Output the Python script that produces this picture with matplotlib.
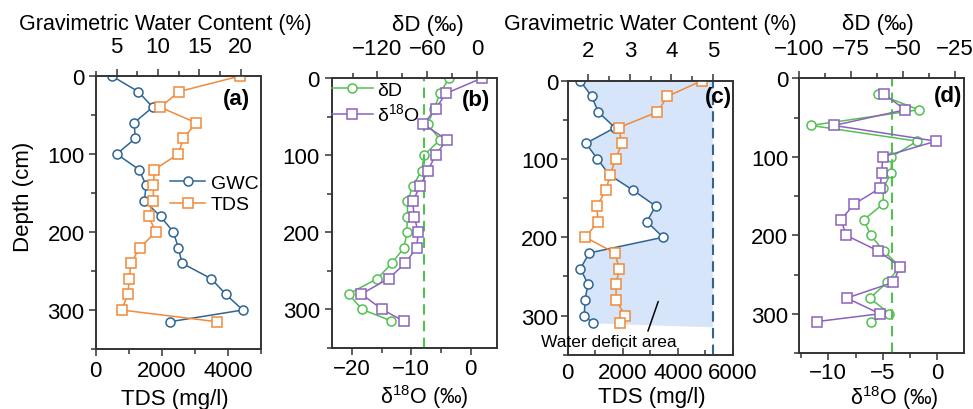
import matplotlib
matplotlib.use('Agg')
import matplotlib.pyplot as plt
from matplotlib.ticker import MultipleLocator

plt.rcParams['font.family'] = ['Liberation Sans', 'DejaVu Sans']
plt.rcParams['mathtext.fontset'] = 'custom'
plt.rcParams['mathtext.rm'] = 'Liberation Sans'
plt.rcParams['font.size'] = 16

# ---- data ----
# panel (a): profile 1, GWC (%) and TDS (mg/l)
depth_a = [0, 20, 40, 60, 80, 100, 120, 140, 160, 180, 200, 220, 240, 260, 280, 300, 315]
gwc_a = [4.4, 7.6, 9.35, 7.1, 7.25, 5.0, 7.7, 8.55, 8.35, 10.3, 11.85, 12.45, 12.9, 16.45, 18.2, 20.25, 11.45]
tds_a = [4365, 2520, 1950, 3034, 2650, 2499, 1773, 1742, 1742, 1603, 1815, 1340, 1059, 1016, 968, 786, 3660]

# panel (b): profile 1, isotopes
depth_b = depth_a
dD_b = [-34, -44.8, -52, -59.5, -44.8, -64, -66.7, -77.5, -84, -84, -84.7, -88, -102.7, -120, -154.8, -138.4, -103.2]
d18O_b = [1.95, -4.15, -5.9, -7.95, -4.0, -5.9, -7.2, -8.5, -9.75, -9.5, -8.8, -9.1, -11.0, -13.8, -18.4, -14.9, -11.3]
ref_d18O_b = -7.85

# panel (c): profile 2, GWC (%) and TDS (mg/l)
depth_c = [0, 20, 40, 60, 80, 100, 120, 140, 160, 180, 200, 220, 240, 260, 280, 300, 310]
gwc_c = [1.80, 2.08, 2.24, 2.64, 1.94, 2.22, 2.5, 3.08, 3.62, 3.41, 3.8, 2.02, 1.81, 1.99, 1.92, 1.9, 2.12]
tds_c = [4873, 3622, 3258, 1855, 1964, 1745, 1538, 1393, 1055, 1102, 640, 1709, 1876, 1756, 1756, 2084, 1902]
field_gwc_c = 5.0
deficit_bottom = 315

# panel (d): profile 2, isotopes
depth_d = [20, 40, 60, 80, 100, 120, 140, 160, 180, 200, 220, 240, 260, 280, 300, 310]
dD_d = [-62.0, -42.5, -94.4, -43.3, -55.7, -55.7, -59.6, -59.6, -68.9, -65.7, -59.3, -51.6, -57.7, -66.0, -56.6, -65.7]
d18O_d = [-4.89, -2.96, -9.48, -0.12, -5.01, -5.1, -5.26, -7.61, -8.83, -8.37, -5.41, -3.42, -4.04, -8.31, -5.26, -11.07]
ref_d18O_d = -4.2

# colours
c_gwc = '#2e6593'
c_tds = '#f08a3a'
c_dD = '#52c152'
c_d18O = '#8b62bd'
c_fill = '#d6e5f9'
c_spine = '#333333'

GWC_LABEL = 'Gravimetric Water Content (%)'
DD_LABEL = 'δD (‰)'
D18O_LABEL = r'δ$^{\mathregular{18}}$O (‰)'

fig = plt.figure(figsize=(9.73, 4.10), dpi=100)


def make_panel(rect, xlim, top_xlim, bottom_pad, left_pad, bottom_dir='out'):
    """Create a panel with a twin x axis on top; the bottom axis is drawn last."""
    ax = fig.add_axes(rect)
    top = ax.twiny()
    ax.set_zorder(top.get_zorder() + 1)
    ax.patch.set_visible(False)
    ax.set_xlim(*xlim)
    top.set_xlim(*top_xlim)
    ax.set_ylim(350, 0)
    ax.yaxis.set_major_locator(MultipleLocator(100))
    ax.yaxis.set_minor_locator(MultipleLocator(50))
    for a in (ax, top):
        for s in a.spines.values():
            s.set_linewidth(1.2)
            s.set_color(c_spine)
    ax.tick_params(axis='x', which='both', direction=bottom_dir, pad=bottom_pad, color=c_spine)
    ax.tick_params(axis='y', which='both', direction='out', pad=left_pad, color=c_spine)
    ax.tick_params(which='major', length=5, width=1.1)
    ax.tick_params(which='minor', length=3.5, width=1.1)
    top.tick_params(axis='x', which='both', direction='out', pad=9, color=c_spine)
    top.tick_params(which='major', length=5, width=1.1)
    top.tick_params(which='minor', length=3.5, width=1.1)
    return ax, top


def set_label(axis, text, x, y, va='center', size=None):
    lab = axis.set_label_text(text)
    lab.set_va(va)
    lab.set_ha('center')
    if size:
        lab.set_fontsize(size)
    axis.set_label_coords(x, y)
    return lab


def profile(ax, x, y, color, marker, label):
    return ax.plot(x, y, color=color, marker=marker, markersize=6.5, markerfacecolor='white',
                   markeredgecolor=color, markeredgewidth=1.1, linewidth=1.1, label=label)[0]


# ---- panel (a) ----
ax_a, top_a = make_panel([0.0984, 0.1463, 0.1699, 0.6659], (0, 5000), (2.46, 22.46), 3, 3)
ax_a.xaxis.set_major_locator(MultipleLocator(2000))
ax_a.xaxis.set_minor_locator(MultipleLocator(1000))
top_a.xaxis.set_major_locator(MultipleLocator(5))
top_a.xaxis.set_minor_locator(MultipleLocator(2.5))
h1 = profile(top_a, gwc_a, depth_a, c_gwc, 'o', 'GWC')
h2 = profile(ax_a, tds_a, depth_a, c_tds, 's', 'TDS')
ax_a.legend([h1, h2], ['GWC', 'TDS'], loc='center left', bbox_to_anchor=(0.45, 0.568), frameon=False,
            fontsize=14, handlelength=1.8, handletextpad=0.3, labelspacing=0.2, borderpad=0,
            borderaxespad=0)
ax_a.text(0.935, 0.916, '(a)', transform=ax_a.transAxes, ha='right', va='center', fontweight='bold')
set_label(ax_a.xaxis, 'TDS (mg/l)', 0.48, -0.18)
set_label(top_a.xaxis, GWC_LABEL, 0.419, 1.192, size=15.5)
ylab = ax_a.set_ylabel('Depth (cm)')
ylab.set_va('center')
ax_a.yaxis.set_label_coords(-0.434, 0.56)

# ---- panel (b) ----
ax_b, top_b = make_panel([0.3409, 0.1488, 0.1702, 0.6585], (-23.4, 4.5), (-175, 24), 2.5, 3.5)
ax_b.xaxis.set_major_locator(MultipleLocator(10))
ax_b.xaxis.set_minor_locator(MultipleLocator(5))
top_b.xaxis.set_major_locator(MultipleLocator(60))
top_b.xaxis.set_minor_locator(MultipleLocator(30))
ax_b.axvline(ref_d18O_b, color=c_dD, linestyle=(0, (5, 3)), linewidth=1.5, zorder=1)
h1 = profile(top_b, dD_b, depth_b, c_dD, 'o', 'δD')
h2 = profile(ax_b, d18O_b, depth_b, c_d18O, 's', r'δ$^{\mathregular{18}}$O')
ax_b.legend([h1, h2], ['δD', r'δ$^{\mathregular{18}}$O'], loc='center left', bbox_to_anchor=(0.0, 0.907),
            frameon=False, fontsize=14, handlelength=2.1, handletextpad=0.25, labelspacing=0.2,
            borderpad=0, borderaxespad=0)
ax_b.text(0.956, 0.922, '(b)', transform=ax_b.transAxes, ha='right', va='center', fontweight='bold')
set_label(ax_b.xaxis, D18O_LABEL, 0.557, -0.205, va='baseline', size=15.5)
set_label(top_b.xaxis, DD_LABEL, 0.582, 1.199)

# ---- panel (c) ----
ax_c, top_c = make_panel([0.5835, 0.1324, 0.1696, 0.6683], (0, 6000), (1.503, 5.48), 5, 2, bottom_dir='in')
ax_c.xaxis.set_major_locator(MultipleLocator(2000))
ax_c.xaxis.set_minor_locator(MultipleLocator(1000))
top_c.xaxis.set_major_locator(MultipleLocator(1))
top_c.xaxis.set_minor_locator(MultipleLocator(0.5))
top_c.fill(gwc_c + [field_gwc_c, field_gwc_c], depth_c + [deficit_bottom, 0], color=c_fill,
           linewidth=0, zorder=0)
top_c.axvline(field_gwc_c, color=c_gwc, linestyle=(0, (5, 3)), linewidth=1.5, zorder=1)
profile(top_c, gwc_c, depth_c, c_gwc, 'o', 'GWC')
profile(ax_c, tds_c, depth_c, c_tds, 's', 'TDS')
ax_c.annotate('Water deficit area', xy=(3290, 282), xytext=(1500, 333), ha='center', va='center',
              fontsize=12.5, arrowprops=dict(arrowstyle='-', color='black', lw=1.1, relpos=(0.78, 1.0),
                                             shrinkA=0, shrinkB=0))
ax_c.text(0.998, 0.944, '(c)', transform=ax_c.transAxes, ha='right', va='center', fontweight='bold')
set_label(ax_c.xaxis, 'TDS (mg/l)', 0.51, -0.151)
set_label(top_c.xaxis, GWC_LABEL, 0.499, 1.209, size=15.5)

# ---- panel (d) ----
ax_d, top_d = make_panel([0.8215, 0.1366, 0.1693, 0.6698], (-12.66, 2.45), (-100, -20.7), 1.5, 3)
ax_d.xaxis.set_major_locator(MultipleLocator(5))
ax_d.xaxis.set_minor_locator(MultipleLocator(2.5))
top_d.xaxis.set_major_locator(MultipleLocator(25))
top_d.xaxis.set_minor_locator(MultipleLocator(12.5))
ax_d.axvline(ref_d18O_d, color=c_dD, linestyle=(0, (5, 3)), linewidth=1.5, zorder=1)
profile(top_d, dD_d, depth_d, c_dD, 'o', 'δD')
profile(ax_d, d18O_d, depth_d, c_d18O, 's', r'δ$^{\mathregular{18}}$O')
ax_d.text(0.988, 0.937, '(d)', transform=ax_d.transAxes, ha='right', va='center', fontweight='bold')
set_label(ax_d.xaxis, D18O_LABEL, 0.575, -0.185, va='baseline', size=15.5)
set_label(top_d.xaxis, DD_LABEL, 0.478, 1.20)

fig.savefig('out.png', dpi=100)
